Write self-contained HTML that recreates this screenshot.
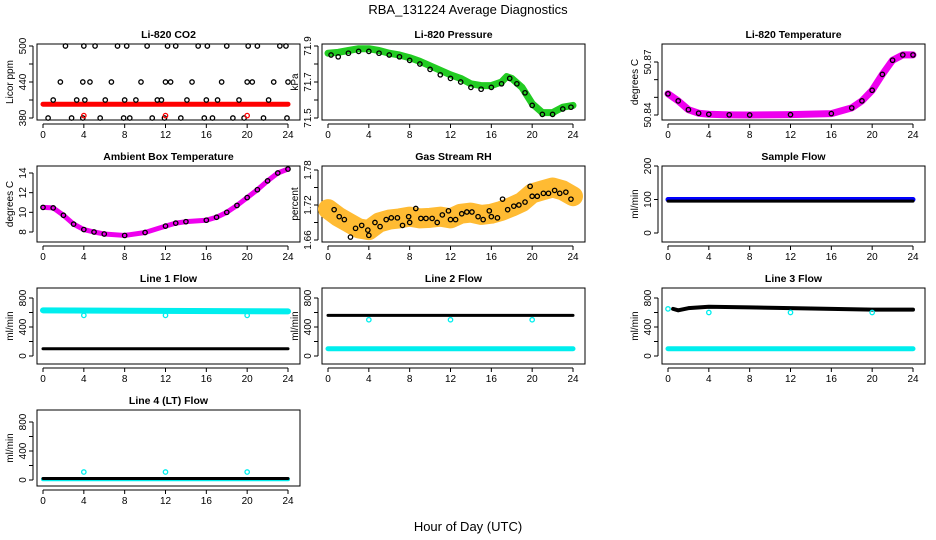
<!DOCTYPE html>
<html><head><meta charset="utf-8"><style>
body{margin:0;background:#fff;}
svg{display:block;font-family:"Liberation Sans",sans-serif;}
</style></head><body>
<svg id="c" width="936" height="540" viewBox="0 0 936 540">
<text x="468" y="14" text-anchor="middle" font-size="13">RBA_131224  Average Diagnostics</text>
<text x="468" y="531" text-anchor="middle" font-size="13">Hour of Day (UTC)</text>
</svg>
<script>
// ---- data ----
const xTicks = [0,4,8,12,16,20,24];
const co2Band = [[0,403],[24,403]];
const co2Hours = [0.5,1,1.7,2.2,2.8,3.3,3.9,3.9,4,4.1,4.6,5.1,5.6,6.1,6.7,7.3,7.9,8,8.2,8.5,9.1,9.6,10.2,10.7,11.2,11.6,11.9,12,12.2,12.5,13,13.5,14.1,14.6,15.2,15.8,16,16.1,16.6,17.1,17.5,18,18.6,19.2,19.7,20,20.1,20.5,21,21.6,22.1,22.6,23.2,23.8,23.9,24];
const co2Vals  = [380,410,440,500,380,410,380,440,500,410,440,500,380,410,440,500,380,410,500,380,410,440,500,380,410,410,380,440,500,440,500,380,410,440,500,380,410,500,380,410,440,500,380,410,380,440,500,440,500,380,410,440,500,500,380,440];
const co2Red = [[4,384],[12,384],[20,384]];
const presLine = [[0,71.86],[1,71.865],[2,71.875],[3,71.885],[4,71.885],[5,71.875],[6,71.86],[7,71.85],[8,71.835],[9,71.815],[10,71.79],[11,71.765],[12,71.74],[13,71.72],[14,71.69],[15,71.68],[16,71.68],[17,71.70],[17.5,71.73],[18,71.72],[19,71.67],[20,71.58],[21,71.53],[22,71.53],[23,71.56],[24,71.57]];
const presPts = [[0.3,71.85],[1,71.84],[2,71.86],[3,71.87],[4,71.87],[5,71.86],[6,71.85],[7,71.84],[8,71.82],[9,71.8],[10,71.77],[11,71.74],[12,71.72],[13,71.7],[14,71.67],[15,71.66],[16,71.67],[17,71.69],[17.8,71.72],[18.5,71.69],[19.3,71.64],[20,71.57],[21,71.52],[22,71.52],[23,71.55],[23.8,71.56]];
const tempLine = [[0,50.852],[1,50.848],[2,50.843],[3,50.841],[4,50.8404],[6,50.8401],[8,50.84],[12,50.8402],[16,50.8408],[18,50.844],[19,50.848],[20,50.854],[21,50.863],[22,50.871],[23,50.874],[24,50.874]];
const ambLine = [[0,10.5],[1,10.45],[2,9.7],[3,8.8],[4,8.25],[5,8.0],[6,7.8],[8,7.65],[10,7.95],[12,8.6],[13,8.9],[14,9.05],[16,9.2],[17,9.5],[18,10.0],[19,10.7],[20,11.5],[21,12.3],[22,13.2],[23,14.0],[24,14.4]];
const rhLine = [[0,1.713],[1,1.70],[2,1.69],[3,1.68],[4,1.677],[5,1.69],[6,1.695],[7,1.697],[8,1.70],[9,1.697],[10,1.698],[11,1.70],[12,1.697],[13,1.705],[14,1.707],[15,1.703],[16,1.705],[17,1.71],[18,1.717],[19,1.725],[20,1.74],[21,1.745],[22,1.75],[23,1.745],[24,1.735]];
const rhPts = [[0.6,1.712],[1.1,1.70],[1.6,1.695],[2.2,1.665],[2.7,1.68],[3.3,1.685],[3.9,1.677],[4,1.668],[4.6,1.69],[5.1,1.683],[5.7,1.695],[6.2,1.698],[6.8,1.698],[7.3,1.685],[7.9,1.70],[8,1.69],[8.6,1.714],[9.1,1.697],[9.6,1.697],[10.2,1.697],[10.7,1.69],[11.2,1.703],[11.8,1.71],[12,1.695],[12.5,1.695],[13.1,1.705],[13.6,1.708],[14.1,1.708],[14.7,1.70],[15.2,1.695],[15.8,1.71],[16,1.70],[16.6,1.698],[17.1,1.73],[17.6,1.712],[18.2,1.718],[18.7,1.72],[19.3,1.725],[19.8,1.752],[20,1.735],[20.5,1.735],[21.1,1.74],[21.6,1.74],[22.2,1.745],[22.7,1.74],[23.3,1.742],[23.8,1.73]];
const sfBlue = [[0,100],[24,100]];
const sfBlack = [[0,95],[24,95]];
const l1Cyan = [[0,630],[24,615]];
const l1Black = [[0,100],[24,100]];
const l1Dips = [[4,560],[12,560],[20,560]];
const l2Black = [[0,560],[24,560]];
const l2Cyan = [[0,100],[24,100]];
const l2Dips = [[4,500],[12,500],[20,500]];
const l3Black = [[0.5,650],[1,630],[2,660],[4,680],[8,670],[12,660],[16,650],[20,640],[24,640]];
const l3Cyan = [[0,100],[24,100]];
const l3Start = [[0,650]];
const l3Dips = [[4,600],[12,600],[20,600]];
const l4Black = [[0,20],[24,20]];
const l4Cyan = [[0,10],[24,10]];
const l4Blips = [[4,110],[12,110],[20,110]];

// ---- drawing ----
const svg = document.getElementById('c');
const NS = 'http://www.w3.org/2000/svg';
function mk(t, attrs, parent){ const e=document.createElementNS(NS,t); for(const k in attrs) e.setAttribute(k,attrs[k]); (parent||svg).appendChild(e); return e; }

function panel(cfg){
  const g = mk('g',{});
  
  
  const x0=cfg.x, x1=cfg.x+245, y0=cfg.top, y1=cfg.top+76;
  const sx = h => x0 + h/24*(x1-x0);
  const sy = v => cfg.yb - (v-cfg.ymin)/(cfg.ymax-cfg.ymin)*(cfg.yb-cfg.yt);
  const box = mk('rect',{x:x0-6,y:y0,width:(x1-x0)+18,height:y1-y0,fill:'none',stroke:'#000','stroke-width':1},g);
  
  
  const t = mk('text',{x:(x0+x1)/2+3,y:y0-6,'text-anchor':'middle','font-size':10.5,'font-weight':'bold'},g);
  t.textContent = cfg.title;
  
  
  mk('line',{x1:sx(0),x2:sx(24),y1:y1+4,y2:y1+4,stroke:'#000'},g);
  xTicks.forEach(h=>{
    mk('line',{x1:sx(h),x2:sx(h),y1:y1+4,y2:y1+8,stroke:'#000'},g);
    const l=mk('text',{x:sx(h),y:y1+18,'text-anchor':'middle','font-size':10},g);
    l.textContent=h;
    
    
  });
  const ax = x0-10;
  mk('line',{x1:ax,x2:ax,y1:sy(cfg.ticks[0]),y2:sy(cfg.ticks[cfg.ticks.length-1]),stroke:'#000'},g);
  cfg.ticks.forEach((v,i)=>{
    mk('line',{x1:ax-4,x2:ax,y1:sy(v),y2:sy(v),stroke:'#000'},g);
    if(cfg.labels[i]!==''){
      const l=mk('text',{x:0,y:0,'text-anchor':'middle','font-size':10,transform:`translate(${ax-7},${sy(v)}) rotate(-90)`},g);
      l.textContent=cfg.labels[i];
      
      
    }
  });
  const yl=mk('text',{x:0,y:0,'text-anchor':'middle','font-size':10,transform:`translate(${ax-20},${(y0+y1)/2}) rotate(-90)`},g);
  yl.textContent=cfg.ylab;
  
  
  cfg.series.forEach(s=>{
    if(s.type==='line'){
      const p=mk('polyline',{points:s.data.map(d=>sx(d[0])+','+sy(d[1])).join(' '),fill:'none',stroke:s.color,'stroke-width':s.w,'stroke-linejoin':'round','stroke-linecap':'round'},g);
      
      
    } else {
      s.data.forEach(d=>{
        const c=mk('circle',{cx:sx(d[0]),cy:sy(d[1]),r:s.r||2.2,fill:s.fill||'none',stroke:s.color,'stroke-width':1.3},g);
        
        
      });
    }
  });
}
const C=[43,328,668], R=[44,166,288,410];
const flowTicks=[0,200,400,600,800], flowLabels=['0','','400','','800'];
panel({name:'co2-panel',title:'Li-820 CO2',x:C[0],top:R[0],yb:118,yt:46,ymin:380,ymax:500,ticks:[380,410,440,470,500],labels:['380','','440','','500'],ylab:'Licor ppm',
  series:[{type:'line',data:co2Band,color:'#f00',w:5,name:'co2-band'},
          {type:'pts',data:co2Hours.map((h,i)=>[h,co2Vals[i]]),color:'#000',name:'co2-point'},
          {type:'pts',data:co2Red,color:'#f00',name:'co2-red-point'}]});
panel({name:'pressure-panel',title:'Li-820 Pressure',x:C[1],top:R[0],yb:118,yt:46,ymin:71.5,ymax:71.9,ticks:[71.5,71.6,71.7,71.8,71.9],labels:['71.5','','71.7','','71.9'],ylab:'kPa',
  series:[{type:'line',data:presLine,color:'#2c2',w:7,name:'pressure-band'},
          {type:'pts',data:presPts,color:'#000',name:'pressure-point'}]});
panel({name:'temperature-panel',title:'Li-820 Temperature',x:C[2],top:R[0],yb:115,yt:62,ymin:50.84,ymax:50.87,ticks:[50.84,50.85,50.86,50.87],labels:['50.84','','','50.87'],ylab:'degrees C',
  series:[{type:'line',data:tempLine,color:'#e0e',w:7,name:'temperature-band'},
          {type:'pts',data:tempLine,color:'#000',name:'temperature-point'}]});
panel({name:'ambient-panel',title:'Ambient Box Temperature',x:C[0],top:R[1],yb:232,yt:173,ymin:8,ymax:14,ticks:[8,10,12,14],labels:['8','10','12','14'],ylab:'degrees C',
  series:[{type:'line',data:ambLine,color:'#e0e',w:5,name:'ambient-band'},
          {type:'pts',data:ambLine,color:'#000',name:'ambient-point'}]});
panel({name:'rh-panel',title:'Gas Stream RH',x:C[1],top:R[1],yb:240,yt:170,ymin:1.66,ymax:1.78,ticks:[1.66,1.69,1.72,1.75,1.78],labels:['1.66','','1.72','','1.78'],ylab:'percent',
  series:[{type:'line',data:rhLine,color:'#fb3',w:20,name:'rh-band'},
          {type:'pts',data:rhPts,color:'#000',name:'rh-point'}]});
panel({name:'sample-flow-panel',title:'Sample Flow',x:C[2],top:R[1],yb:233,yt:166,ymin:0,ymax:200,ticks:[0,100,200],labels:['0','100','200'],ylab:'ml/min',
  series:[{type:'line',data:sfBlue,color:'#00f',w:5,name:'sample-flow-band'},
          {type:'line',data:sfBlack,color:'#000',w:3,name:'sample-flow-black'}]});
panel({name:'line1-panel',title:'Line 1 Flow',x:C[0],top:R[2],yb:356,yt:298,ymin:0,ymax:800,ticks:flowTicks,labels:flowLabels,ylab:'ml/min',
  series:[{type:'line',data:l1Cyan,color:'#0ee',w:6,name:'line1-cyan'},
          {type:'line',data:l1Black,color:'#000',w:3,name:'line1-black'},
          {type:'pts',data:l1Dips,color:'#0ee',name:'line1-dip'}]});
panel({name:'line2-panel',title:'Line 2 Flow',x:C[1],top:R[2],yb:356,yt:298,ymin:0,ymax:800,ticks:flowTicks,labels:flowLabels,ylab:'ml/min',
  series:[{type:'line',data:l2Cyan,color:'#0ee',w:5,name:'line2-cyan'},
          {type:'line',data:l2Black,color:'#000',w:3,name:'line2-black'},
          {type:'pts',data:l2Dips,color:'#0ee',name:'line2-dip'}]});
panel({name:'line3-panel',title:'Line 3 Flow',x:C[2],top:R[2],yb:356,yt:298,ymin:0,ymax:800,ticks:flowTicks,labels:flowLabels,ylab:'ml/min',
  series:[{type:'line',data:l3Cyan,color:'#0ee',w:5,name:'line3-cyan'},
          {type:'line',data:l3Black,color:'#000',w:4,name:'line3-black'},
          {type:'pts',data:l3Start,color:'#0ee',name:'line3-start'},
          {type:'pts',data:l3Dips,color:'#0ee',name:'line3-dip'}]});
panel({name:'line4-panel',title:'Line 4 (LT) Flow',x:C[0],top:R[3],yb:480,yt:422,ymin:0,ymax:800,ticks:flowTicks,labels:flowLabels,ylab:'ml/min',
  series:[{type:'line',data:l4Cyan,color:'#0ee',w:4,name:'line4-cyan'},
          {type:'line',data:l4Black,color:'#000',w:3,name:'line4-black'},
          {type:'pts',data:l4Blips,color:'#0ee',name:'line4-blip'}]});
</script>
</body></html>
